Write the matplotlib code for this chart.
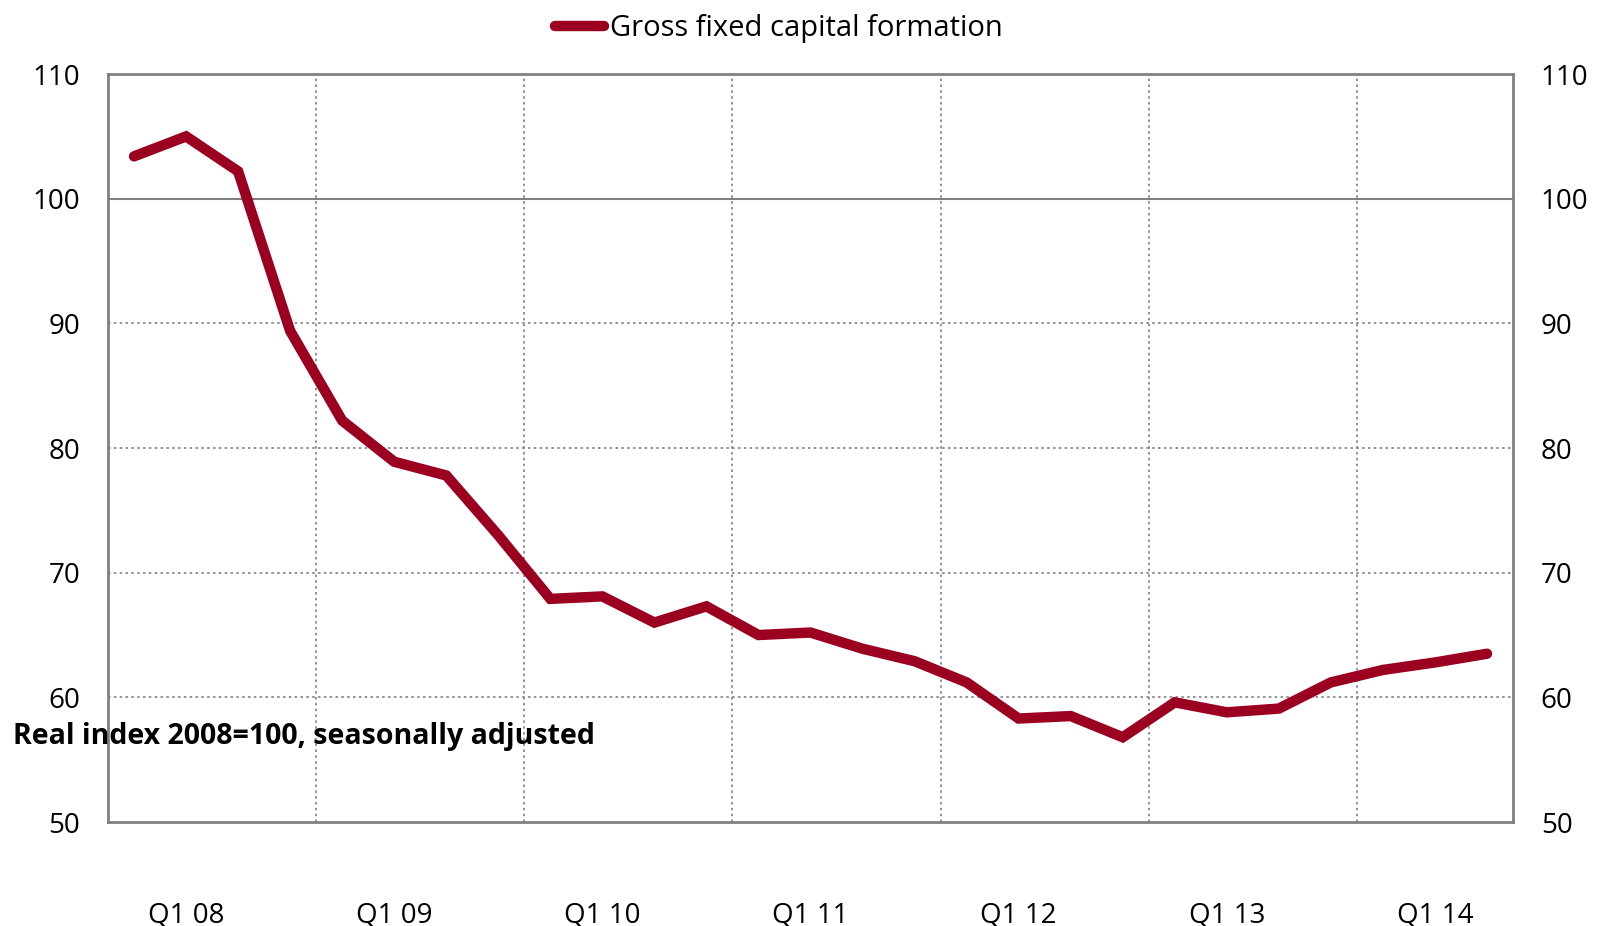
import numpy as np
import matplotlib.pyplot as plt

# quarterly index values, Q4 07 .. Q2 14
gfcf = [103.4, 105.0, 102.2, 89.4, 82.2, 78.9, 77.8, 73.0, 67.9, 68.1,
        66.0, 67.3, 65.0, 65.2, 63.9, 62.9, 61.2, 58.3, 58.5, 56.8,
        59.6, 58.8, 59.1, 61.2, 62.2, 62.8, 63.5]
tick_labels = ["Q1 08", "Q1 09", "Q1 10", "Q1 11", "Q1 12", "Q1 13", "Q1 14"]
yticks = [50, 60, 70, 80, 90, 100, 110]

plt.rcParams['font.family'] = ['Open Sans', 'DejaVu Sans']

fig = plt.figure(figsize=(16.12, 9.26), dpi=100)
ax = fig.add_axes([0.067, 0.1123, 0.8716, 0.8077])

x = np.arange(len(gfcf))
ax.plot(x, gfcf, color="#9B0020", lw=7.5, solid_capstyle="round",
        solid_joinstyle="miter", label="Gross fixed capital formation", zorder=3)

ax.set_xlim(-0.5, len(gfcf) - 0.5)
ax.set_ylim(50, 110)

# year boundaries
for b in np.arange(3.5, len(gfcf) - 1, 4):
    ax.axvline(b, color="#808080", lw=1.2, ls=(0, (1.5, 2)), zorder=1)
for v in yticks[1:-1]:
    if v == 100:
        ax.axhline(v, color="#808080", lw=1.5, zorder=1)
    else:
        ax.axhline(v, color="#808080", lw=1.2, ls=(0, (1.5, 2)), zorder=1)

ax.set_xticks(np.arange(1, len(gfcf), 4))
ax.set_xticklabels(tick_labels, fontsize=20)
ax.tick_params(axis="x", length=0, pad=57)
ax.set_yticks(yticks)
ax.set_yticklabels([str(v) for v in yticks], fontsize=20)
ax.tick_params(axis="y", length=0, pad=20, labelright=True)

for s in ax.spines.values():
    s.set_color("#808080")
    s.set_linewidth(2)

fig.text(0.008, 0.205, "Real index 2008=100, seasonally adjusted",
         fontsize=20.5, fontweight="bold", ha="left", va="center")

fig.legend(loc="upper center", bbox_to_anchor=(0.483, 1.013), frameon=False,
           fontsize=21, handlelength=1.7, handletextpad=0.2)

fig.savefig("out.png", dpi=100)
